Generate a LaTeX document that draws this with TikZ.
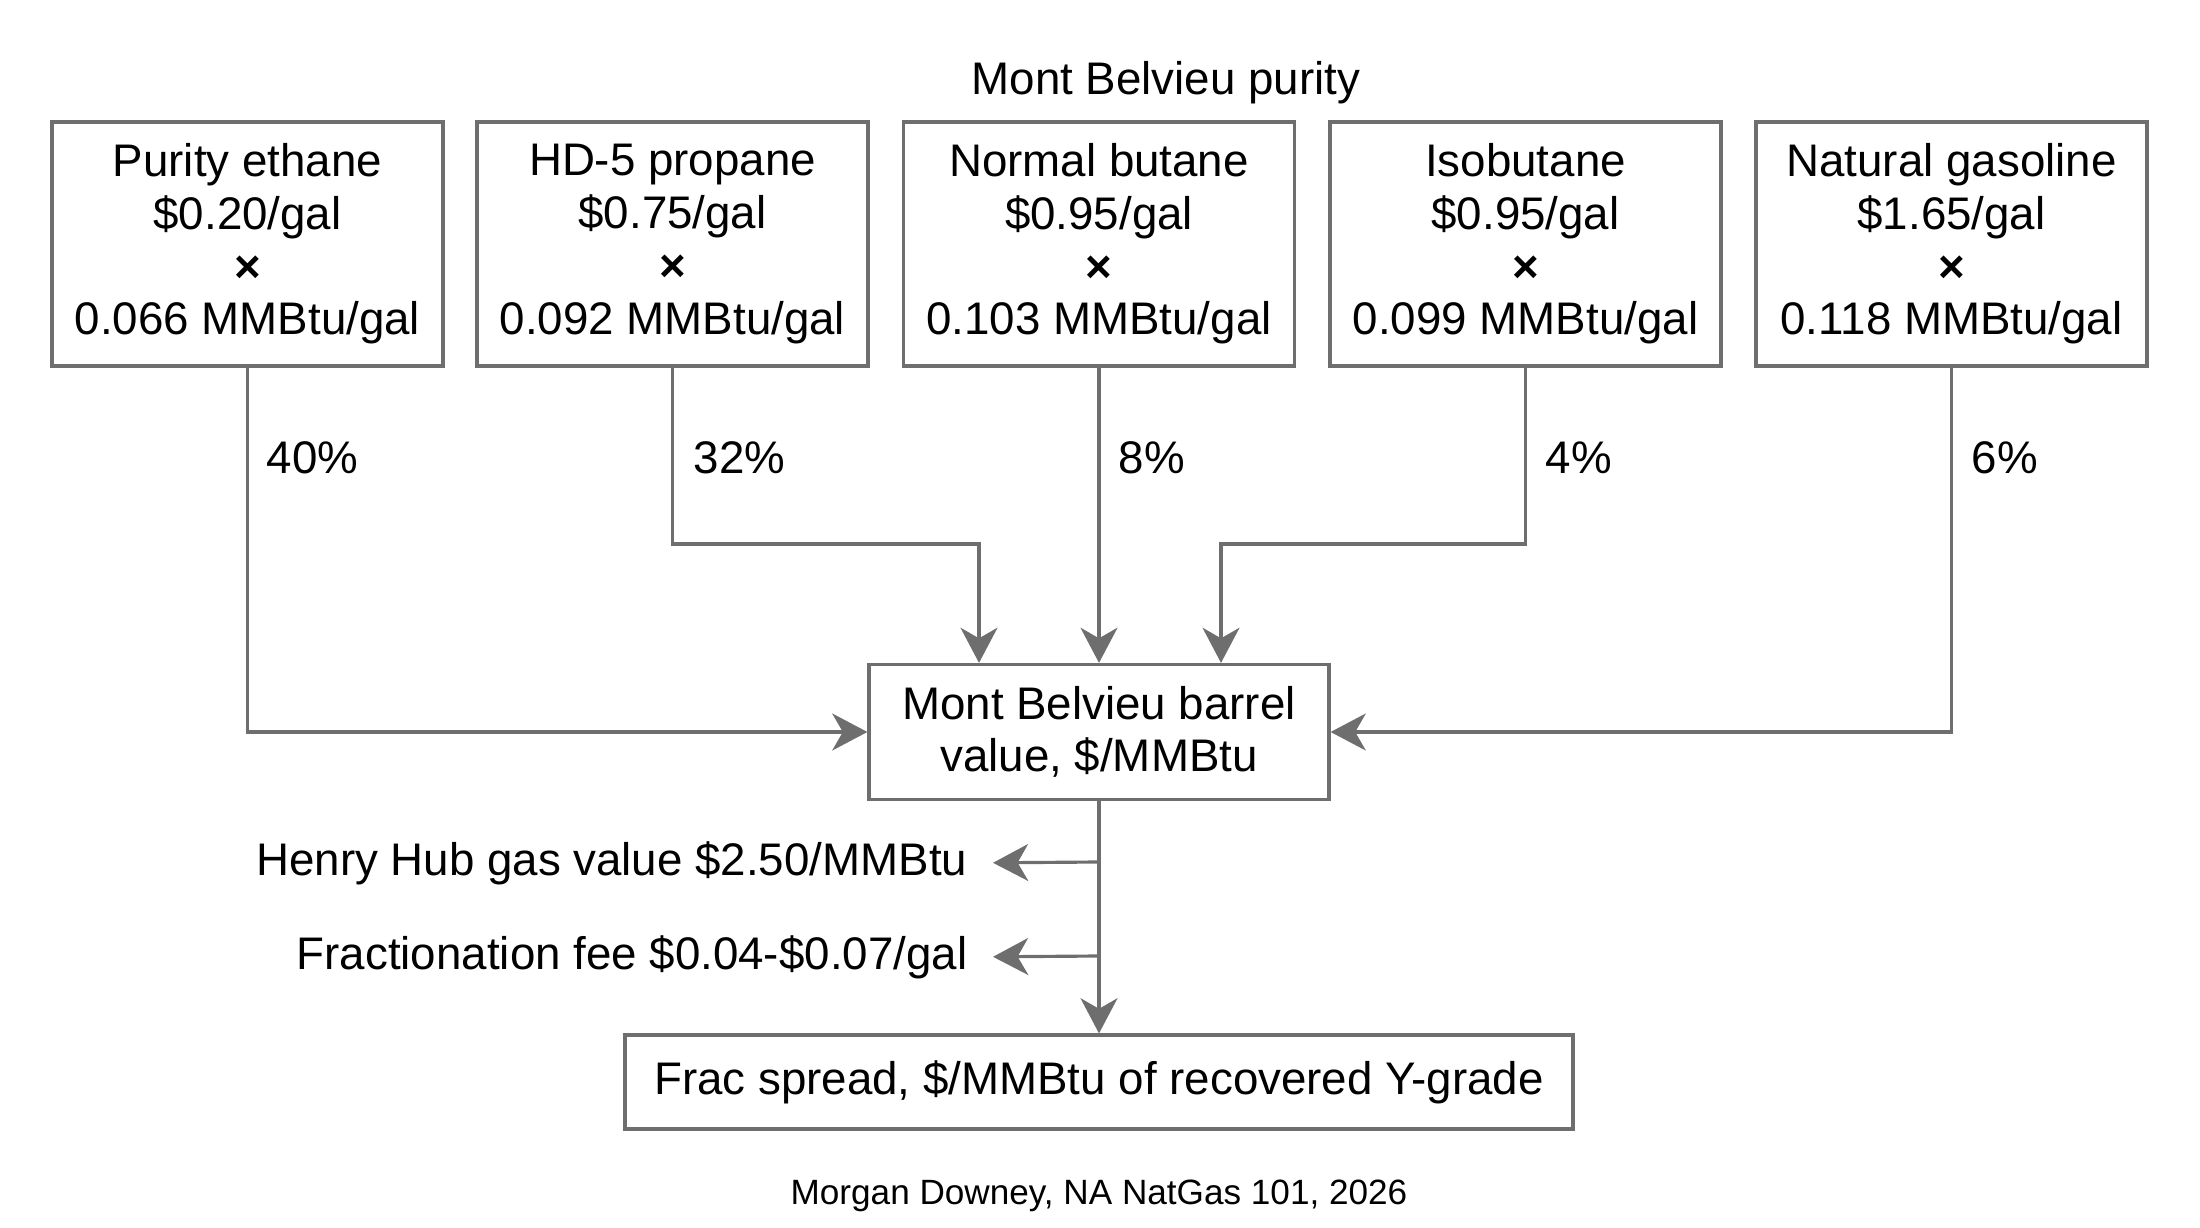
\documentclass[tikz,border=0pt]{standalone}
\usepackage{fontspec}
\setmainfont{Liberation Sans}
\usetikzlibrary{arrows.meta}
\definecolor{linegray}{HTML}{6E6E6E}
\begin{document}
\begin{tikzpicture}[
	box/.style={draw=linegray, line width=0.9pt, minimum width=3.91cm, minimum height=2.44cm, inner sep=0pt, align=center, font=\fontsize{13}{15}\selectfont},
	txt/.style={inner sep=0pt, font=\fontsize{13}{15}\selectfont},
	flow/.style={draw=linegray, line width=0.9pt, -{Stealth[length=10pt,width=10.5pt,inset=3pt]}}]
	\useasboundingbox (0,0) rectangle (22,-12.28);
	\node[txt] (0) at (11.66,-0.83) {Mont Belvieu purity};
	\node[box] (1) at (2.475,-2.44) {Purity ethane\\\$0.20/gal\\\textbf{×}\\0.066 MMBtu/gal};
	\node[box] (2) at (6.725,-2.44) {HD-5 propane\\\$0.75/gal\\\textbf{×}\\0.092 MMBtu/gal};
	\node[box] (3) at (10.99,-2.44) {Normal butane\\\$0.95/gal\\\textbf{×}\\0.103 MMBtu/gal};
	\node[box] (4) at (15.255,-2.44) {Isobutane\\\$0.95/gal\\\textbf{×}\\0.099 MMBtu/gal};
	\node[box] (5) at (19.515,-2.44) {Natural gasoline\\\$1.65/gal\\\textbf{×}\\0.118 MMBtu/gal};
	\node[txt, anchor=west] (6) at (2.66,-4.58) {40\%};
	\node[txt, anchor=west] (7) at (6.93,-4.58) {32\%};
	\node[txt, anchor=west] (8) at (11.18,-4.58) {8\%};
	\node[txt, anchor=west] (9) at (15.45,-4.58) {4\%};
	\node[txt, anchor=west] (10) at (19.71,-4.58) {6\%};
	\node[box, minimum width=4.60cm, minimum height=1.35cm] (11) at (10.99,-7.32) {Mont Belvieu barrel\\value, \$/MMBtu};
	\node[txt, anchor=east] (12) at (9.68,-8.63) {Henry Hub gas value \$2.50/MMBtu};
	\node[txt, anchor=east] (13) at (9.68,-9.57) {Fractionation fee \$0.04-\$0.07/gal};
	\node[box, minimum width=9.48cm, minimum height=0.94cm] (14) at (10.99,-10.82) {Frac spread, \$/MMBtu of recovered Y-grade};
	\node[inner sep=0pt, font=\fontsize{10}{12}\selectfont] (15) at (10.99,-11.96) {Morgan Downey, NA NatGas 101, 2026};
	\coordinate (16) at (9.79,-5.44);
	\coordinate (17) at (12.21,-5.44);
	\coordinate (18) at (10.99,-8.62);
	\coordinate (19) at (10.99,-9.56);
	\draw[flow] (1.south) |- (11.west);
	\draw[flow] (2.south) |- (16) -- (16 |- 11.north);
	\draw[flow] (3.south) -- (11.north);
	\draw[flow] (4.south) |- (17) -- (17 |- 11.north);
	\draw[flow] (5.south) |- (11.east);
	\draw[flow] (11.south) -- (14.north);
	\draw[flow, shorten >=0.25cm] (18) -- (12.east);
	\draw[flow, shorten >=0.25cm] (19) -- (13.east);
\end{tikzpicture}
\end{document}
